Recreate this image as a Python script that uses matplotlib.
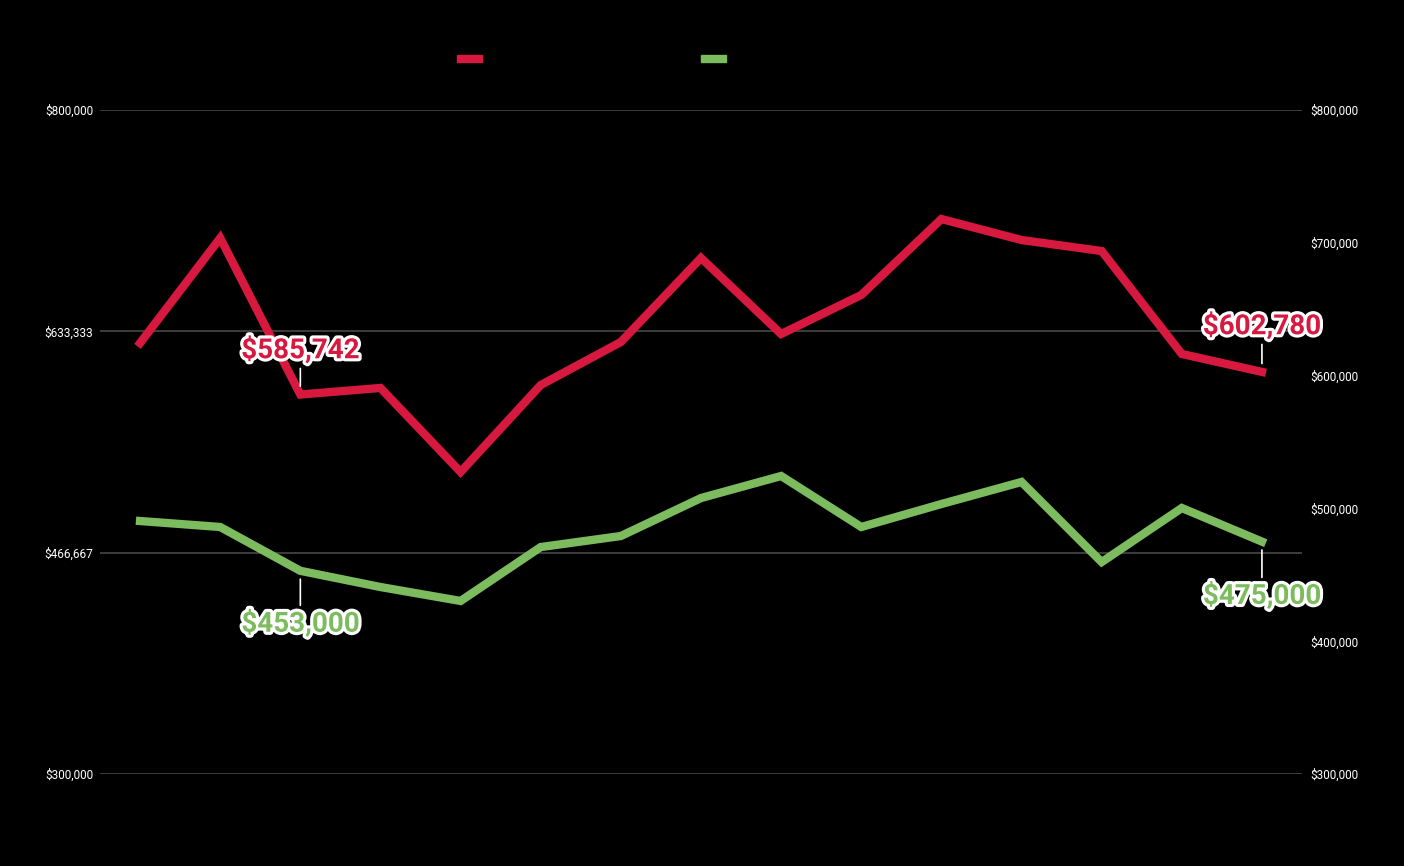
import matplotlib
matplotlib.use("Agg")
import matplotlib.pyplot as plt
import matplotlib.patheffects as pe
from matplotlib.patches import Rectangle
from matplotlib.ticker import FuncFormatter

plt.rcParams['font.family'] = ['Roboto', 'DejaVu Sans']

# data
periods = list(range(1, 16))
series_names = ["Average Sale Price", "Median Sale Price"]
avg_price = [624500, 703600, 585742, 590700, 527400, 592900, 625300, 688600,
             631300, 660700, 717900, 702100, 693800, 616300, 602780]
median_price = [490500, 486000, 453000, 440800, 430300, 470900, 479200, 507800,
                524400, 486000, 503300, 519900, 459600, 500300, 475000]
left_ticks = [300000, 466667, 633333, 800000]
right_ticks = [300000, 400000, 500000, 600000, 700000, 800000]

RED = "#d7193f"
GREEN = "#7dbb5f"
BG = "black"

fig = plt.figure(figsize=(14.04, 8.66), dpi=100, facecolor=BG)
ax = fig.add_axes([100 / 1404, 1 - 774 / 866, 1202 / 1404, 664 / 866])
ax.set_facecolor(BG)

x = list(range(len(periods)))
ax.plot(x, avg_price, color=RED, lw=6, solid_joinstyle='miter', zorder=3)
ax.plot(x, median_price, color=GREEN, lw=6, solid_joinstyle='miter', zorder=3)

ax.set_xlim(-0.5, len(periods) - 0.5)
ax.set_ylim(300000, 800000)
ax.set_xticks([])
ax.set_yticks(left_ticks)
money = FuncFormatter(lambda v, p: "${:,.0f}".format(v))
ax.yaxis.set_major_formatter(money)
ax.tick_params(axis='y', length=0, labelsize=8.5, labelcolor='white', pad=5)
ax.grid(axis='y', color='#474747', lw=1.2)
ax.set_axisbelow(True)
for s in ax.spines.values():
    s.set_visible(False)

ax2 = ax.twinx()
ax2.set_ylim(300000, 800000)
ax2.set_yticks(right_ticks)
ax2.yaxis.set_major_formatter(money)
ax2.tick_params(axis='y', length=0, labelsize=8.5, labelcolor='white', pad=6)
for s in ax2.spines.values():
    s.set_visible(False)


def callout(i, vals, color, dy):
    v = vals[i]
    ax.annotate("${:,.0f}".format(v), xy=(i, v), xytext=(0, dy),
                textcoords='offset points', ha='center', va='center',
                fontsize=20, fontweight='bold', color=color, zorder=5,
                path_effects=[pe.withStroke(linewidth=4.5, foreground='white')],
                arrowprops=dict(arrowstyle='-', color='white', lw=1.2,
                                shrinkA=1, shrinkB=6))


callout(2, avg_price, RED, 32)
callout(14, avg_price, RED, 33)
callout(2, median_price, GREEN, -38)
callout(14, median_price, GREEN, -39)

# legend (labels are drawn in black, as in the original)
for lx, col, name in [(457, RED, series_names[0]), (701, GREEN, series_names[1])]:
    fig.add_artist(Rectangle((lx / 1404, 1 - 62 / 866), 25 / 1404, 7 / 866,
                             transform=fig.transFigure, color=col))
    fig.text((lx + 32) / 1404, 1 - 58 / 866, name, color='black',
             fontsize=10, va='center', ha='left')

fig.savefig("out.png", dpi=100, facecolor=BG)
